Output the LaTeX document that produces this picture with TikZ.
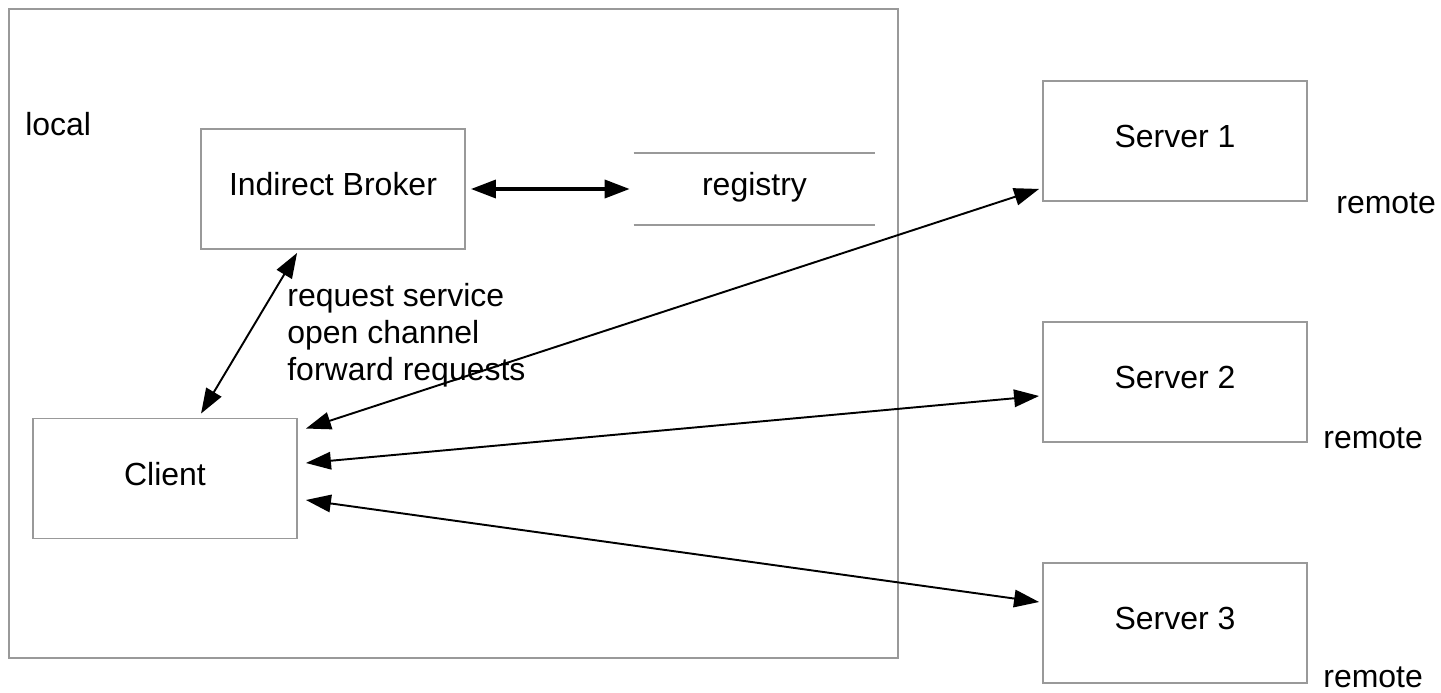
\documentclass[tikz,border=0pt]{standalone}
\usepackage{fontspec}
\setmainfont{Liberation Sans}
\usetikzlibrary{arrows.meta,calc}
\definecolor{boxgray}{HTML}{999999}
\begin{document}
\begin{tikzpicture}[x=0.02cm,y=-0.02cm,
  font=\fontsize{18.2pt}{21pt}\selectfont,
  box/.style={draw=boxgray,line width=1.1pt,minimum width=5.28cm,minimum height=2.4cm,text depth=0.2cm,inner sep=0pt},
  conn/.style={line width=1.1pt,{Triangle[length=0.5cm,width=0.35cm]}-{Triangle[length=0.5cm,width=0.35cm]}},
  thickconn/.style={line width=2pt,{Triangle[length=0.5cm,width=0.36cm]}-{Triangle[length=0.5cm,width=0.36cm]}},
  plain/.style={inner sep=0pt,anchor=base west}]
\useasboundingbox (0,0) rectangle (1441,693);
\fill[white] (0,0) rectangle (1441,693);
% local frame
\node[draw=boxgray,line width=1.1pt,minimum width=17.78cm,minimum height=12.98cm,inner sep=0pt] (local) at (453.5,333.5) {};
\node[plain] (locallbl) at (25,135) {local};
% boxes
\node[box] (broker) at (333,189) {Indirect Broker};
\node[box] (client) at (165,478.5) {Client};
\node[box] (s1) at (1175,141) {Server 1};
\node[box] (s2) at (1175,382) {Server 2};
\node[box] (s3) at (1175,623) {Server 3};
% registry
\node[minimum width=4.82cm,minimum height=1.44cm,inner sep=0pt,text depth=0.2cm] (reg) at (754.5,189) {registry};
\draw[boxgray,line width=1.1pt] (reg.north west) -- (reg.north east);
\draw[boxgray,line width=1.1pt] (reg.south west) -- (reg.south east);
% remote labels
\node[plain] (r1) at (1336,213) {remote};
\node[plain] (r2) at (1323,448) {remote};
\node[plain] (r3) at (1323,687) {remote};
% connectors
\draw[thickconn] ($(broker.east)+(5,0)$) -- ($(reg.west)+(-4,0)$);
\draw[conn] ($(broker.south west)+(97,3)$) -- ($(client.north west)+(169,-4)$);
\node[plain,align=left,anchor=north west] (lbl) at (287,283) {request service\\open channel\\forward requests};
\draw[conn] ($(client.north east)+(8,11)$) -- ($(s1.south west)+(-3,-13)$);
\draw[conn] ($(client.east)+(8,-15.5)$) -- ($(s2.west)+(-3,14)$);
\draw[conn] ($(client.east)+(8,21.5)$) -- ($(s3.west)+(-3,-21)$);
\end{tikzpicture}
\end{document}
